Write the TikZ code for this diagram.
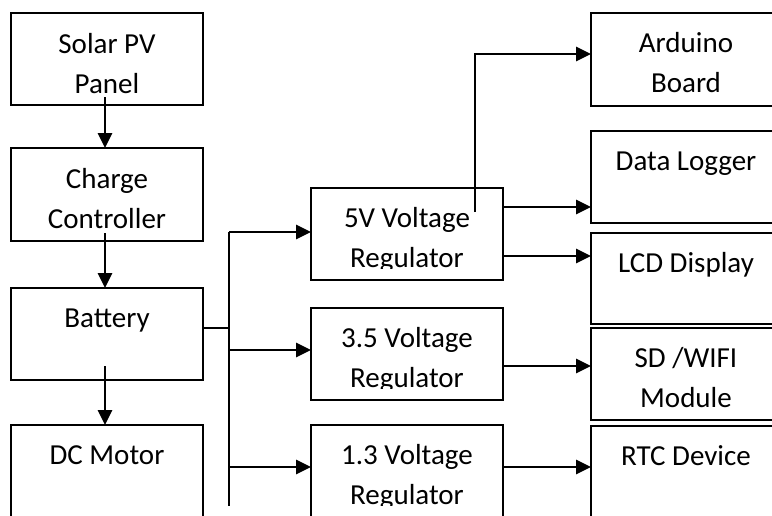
\documentclass[tikz,border=0pt]{standalone}
\usepackage{fontspec}
\setmainfont{Carlito}
\usetikzlibrary{arrows.meta}
\begin{document}
\begin{tikzpicture}[x=1pt,y=-1pt,
  box/.style={draw,line width=2pt,minimum width=192pt,inner sep=0pt,outer sep=0pt},
  rbox/.style={draw,line width=2pt,minimum width=209pt,inner sep=0pt,outer sep=0pt},
  lbl/.style={anchor=base,inner sep=0pt,font=\fontsize{29}{34}\selectfont},
  arr/.style={line width=2.8pt,-{Triangle[length=15pt,width=14pt]}},
  wire/.style={line width=2.4pt},
  thin/.style={line width=1.8pt}]
\useasboundingbox (0,0) rectangle (772,515);
\clip (0,0) rectangle (772,515);
\fill[white] (0,0) rectangle (772,515);

% boxes
\node[box,minimum height=92pt] (solar) at (107,59) {};
\node[box,minimum height=93pt] (charge) at (107,194.5) {};
\node[box,minimum height=92pt] (battery) at (107,334) {};
\node[box,minimum height=92pt] (motor) at (107,471) {};
\node[box,minimum height=92pt] (reg5) at (407,234) {};
\node[box,minimum height=92pt] (reg35) at (407,354) {};
\node[box,minimum height=92pt] (reg13) at (407,471) {};
\node[rbox,minimum height=93pt] (arduino) at (695.5,59.5) {};
\node[rbox,minimum height=92pt] (logger) at (695.5,177) {};
\node[rbox,minimum height=91pt] (lcd) at (695.5,278.5) {};
\node[rbox,minimum height=92pt] (sd) at (695.5,374) {};
\node[rbox,minimum height=92pt] (rtc) at (695.5,472) {};

% texts
\node[lbl] (solarA) at ([yshift=-40pt]solar.north) {Solar PV};
\node[lbl] (solarB) at ([yshift=-80pt]solar.north) {Panel};
\node[lbl] (chargeA) at ([yshift=-40pt]charge.north) {Charge};
\node[lbl] (chargeB) at ([yshift=-80pt]charge.north) {Controller};
\node[lbl] (batteryA) at ([yshift=-39pt]battery.north) {Battery};
\node[lbl] (motorA) at ([yshift=-39pt]motor.north) {DC Motor};
\begin{scope}
\clip ([xshift=1pt]reg5.north west) rectangle ([yshift=12pt]reg5.south east);
\node[lbl] (reg5A) at ([yshift=-39pt]reg5.north) {5V Voltage};
\node[lbl] (reg5B) at ([yshift=-79pt]reg5.north) {Regulator};
\end{scope}
\begin{scope}
\clip ([xshift=1pt]reg35.north west) rectangle ([yshift=12pt]reg35.south east);
\node[lbl] (reg35A) at ([yshift=-39pt]reg35.north) {3.5 Voltage};
\node[lbl] (reg35B) at ([yshift=-79pt]reg35.north) {Regulator};
\end{scope}
\begin{scope}
\clip ([xshift=1pt]reg13.north west) rectangle ([yshift=12pt]reg13.south east);
\node[lbl] (reg13A) at ([yshift=-39pt]reg13.north) {1.3 Voltage};
\node[lbl] (reg13B) at ([yshift=-79pt]reg13.north) {Regulator};
\end{scope}
\node[lbl] (arduinoA) at ([xshift=-9.5pt,yshift=-39.5pt]arduino.north) {Arduino};
\node[lbl] (arduinoB) at ([xshift=-9.5pt,yshift=-79pt]arduino.north) {Board};
\node[lbl] (loggerA) at ([xshift=-9.5pt,yshift=-39pt]logger.north) {Data Logger};
\node[lbl] (lcdA) at ([xshift=-9.5pt,yshift=-39pt]lcd.north) {LCD Display};
\node[lbl] (sdA) at ([xshift=-9.5pt,yshift=-39pt]sd.north) {SD /WIFI};
\node[lbl] (sdB) at ([xshift=-9.5pt,yshift=-79pt]sd.north) {Module};
\node[lbl] (rtcA) at ([xshift=-9.5pt,yshift=-39pt]rtc.north) {RTC Device};

% coordinates
\coordinate (busTop) at (229,232);
\coordinate (busBot) at (229,506);
\coordinate (bb) at (229,328);
\coordinate (b35) at (229,350);
\coordinate (b13) at (229,467);
\coordinate (k1) at (475,212);
\coordinate (k2) at (475,54);
\coordinate (yl) at (0,207);
\coordinate (yd) at (0,256);
\coordinate (ys) at (0,366);
\coordinate (yr) at (0,467);

% connectors
\draw[arr] ([xshift=-2pt,yshift=8pt]solar.south) -- ([xshift=-2pt]charge.north);
\draw[arr] ([xshift=-2pt,yshift=8pt]charge.south) -- ([xshift=-2pt]battery.north);
\draw[arr] ([xshift=-2pt,yshift=14pt]battery.south) -- ([xshift=-2pt]motor.north);
\draw[thin] (battery.east |- bb) -- (bb);
\draw[wire] (busTop) -- (busBot);
\draw[arr] (busTop) -- (reg5.west |- busTop);
\draw[arr] (b35) -- (reg35.west |- b35);
\draw[arr] (b13) -- (reg13.west |- b13);
\draw[arr] (k1) -- (k2) -- (arduino.west |- k2);
\draw[arr] (reg5.east |- yl) -- (logger.west |- yl);
\draw[arr] (reg5.east |- yd) -- (lcd.west |- yd);
\draw[arr] (reg35.east |- ys) -- (sd.west |- ys);
\draw[arr] (reg13.east |- yr) -- (rtc.west |- yr);
\end{tikzpicture}
\end{document}
